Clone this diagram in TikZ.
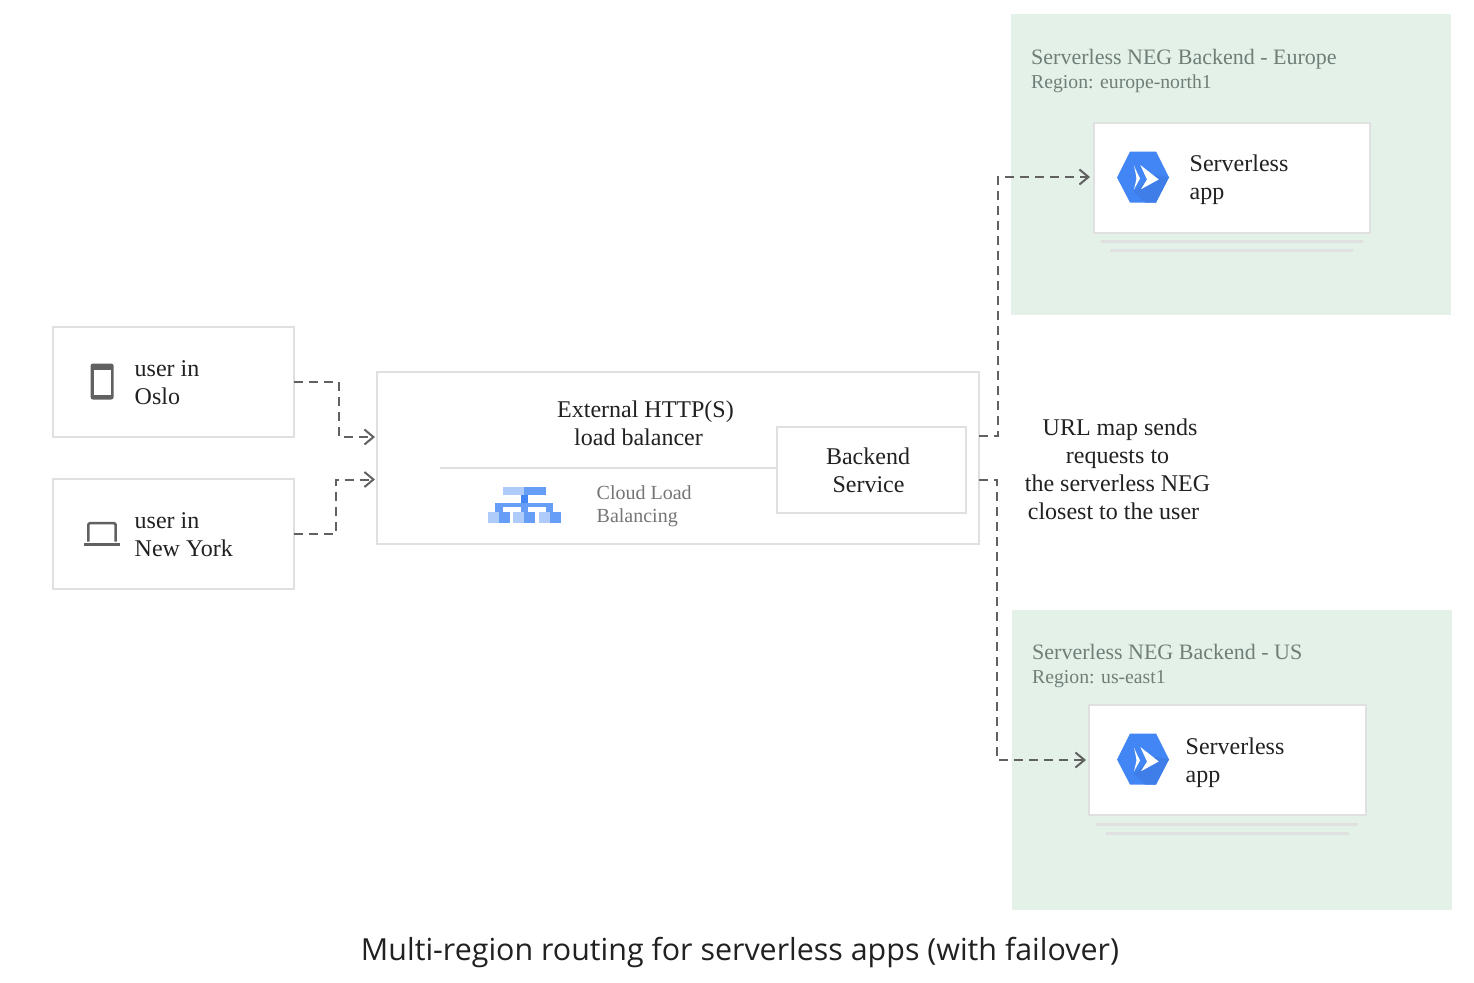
\documentclass[tikz,border=0pt]{standalone}
\usepackage{fontspec}
\setmainfont{Liberation Serif}
\newfontfamily\titlefont{Open Sans}
\usetikzlibrary{arrows.meta}
\definecolor{panel}{HTML}{E3F1E9}
\definecolor{edge}{HTML}{E0E0E0}
\definecolor{ink}{HTML}{212121}
\definecolor{muted}{HTML}{757575}
\definecolor{panelink}{HTML}{6F7F77}
\definecolor{flowc}{HTML}{616161}
\definecolor{gb}{HTML}{4285F4}
\definecolor{gbd}{HTML}{3F7DE8}
\definecolor{gbm}{HTML}{669DF6}
\definecolor{gbl}{HTML}{AECBFA}
\tikzset{
  x=1pt,y=-1pt,
  boxn/.style={draw=edge,line width=2pt,fill=white,inner sep=0pt,outer sep=0pt},
  panelbox/.style={fill=panel,inner sep=0pt,outer sep=0pt},
  lab/.style={font=\fontsize{24}{28}\selectfont,text=ink,inner sep=0pt,align=left,anchor=base west},
  labc/.style={font=\fontsize{24}{28}\selectfont,text=ink,inner sep=0pt,align=center,anchor=base},
  small/.style={font=\fontsize{20}{23}\selectfont,text=muted,inner sep=0pt,align=left,anchor=base west},
  panelhead/.style={font=\fontsize{22}{26}\selectfont,text=panelink,inner sep=0pt,anchor=base west},
  panelsub/.style={font=\fontsize{19.7}{24}\selectfont,text=panelink,inner sep=0pt,anchor=base west},
  flow/.style={draw=flowc,line width=2pt,dash pattern=on 9pt off 6pt},
  flowtip/.style={flow,-{Straight Barb[length=9pt,width=15pt,line width=2pt]}},
  shade/.style={draw=edge,line width=3pt}
}
\newcommand{\appicon}[2]{%
  \begin{scope}[shift={(#1,#2)}]
    \fill[gb] (-26,0) -- (-13,-26) -- (13,-26) -- (26,0) -- (13,25) -- (-13,25) -- cycle;
    \fill[gbd] (12,-2.5) -- (26,-0.5) -- (13,25) -- (2,25) -- (-9.5,14) -- cycle;
    \fill[white] (-2.7,-12.5) -- (15.7,2) -- (-2,11.7) -- (4,2) -- cycle;
    \fill[white] (-9,-12) .. controls (-7,-7) and (-5,-3) .. (-3,1) .. controls (-5,5) and (-7,8) .. (-9,12)
      .. controls (-8,7) and (-7,4) .. (-6.5,1) .. controls (-7,-3) and (-8,-7) .. (-9,-12) -- cycle;
  \end{scope}}
\begin{document}
\begin{tikzpicture}
\useasboundingbox (0,0) rectangle (1474,982);
% panels
\node[panelbox,minimum width=440,minimum height=301] (eu) at (1231,164.5) {};
\node[panelbox,minimum width=440,minimum height=300.5] (us) at (1232,759.75) {};
\node[panelhead] (euh) at (1031,64) {Serverless NEG Backend - Europe};
\node[panelsub] (eus) at (1031,88.5) {Region: europe-north1};
\node[panelhead] (ush) at (1032,659) {Serverless NEG Backend - US};
\node[panelsub] (uss) at (1032,683.5) {Region: us-east1};
% app boxes
\node[boxn,minimum width=276,minimum height=110] (euapp) at (1232,178) {};
\node[boxn,minimum width=277,minimum height=110] (usapp) at (1227.5,760) {};
\draw[shade] (1101,241) -- (1363,241);
\draw[shade] (1110,250) -- (1353,250);
\draw[shade] (1096,824) -- (1358,824);
\draw[shade] (1106,833) -- (1349,833);
\appicon{1143}{177.5}
\appicon{1143}{759.5}
\node[lab] (eut) at (1189.5,199) {Serverless\\app};
\node[lab] (ust) at (1185.5,782) {Serverless\\app};
% user boxes
\node[boxn,minimum width=241,minimum height=110] (oslo) at (173.5,382) {};
\node[boxn,minimum width=241,minimum height=110] (ny) at (173.5,534) {};
\node[lab] (oslot) at (134.5,404) {user in\\Oslo};
\node[lab] (nyt) at (134.5,556) {user in\\New York};
% phone
\fill[flowc,rounded corners=2.5pt] (90.5,363.5) rectangle (113.7,399.5);
\fill[white] (93.5,370) rectangle (110.7,394.5);
% laptop
\draw[flowc,line width=2.5pt,fill=white,rounded corners=1.5pt] (88.3,541.5) -- (88.3,523) -- (115.5,523) -- (115.5,541.5);
\fill[flowc] (84,542.7) rectangle (120,546);
% load balancer
\node[boxn,minimum width=602,minimum height=172] (lb) at (678,458) {};
\node[labc] (lbt) at (638.5,445) {\hspace*{14pt}External HTTP(S)\\load balancer\hspace*{0pt}};
\node[boxn,minimum width=189,minimum height=86] (bs) at (871.5,470) {};
\node[labc] (bst) at (868,492.5) {Backend\\\hspace*{1pt}Service};
\coordinate (divl) at (440,467.5);
\draw[draw=edge,line width=2pt] (divl) -- (bs.west |- divl);
% cloud load balancing icon
\fill[gbl] (502.7,486.7) rectangle (524.3,495.3);
\fill[gbm] (524.3,486.7) rectangle (546,495.3);
\fill[gb] (520.7,495.3) rectangle (528,502.7);
\fill[gbm] (495.3,502.7) rectangle (553.3,506.7);
\fill[gbm] (495.3,506.7) rectangle (502.7,511.7);
\fill[gbm] (520.7,506.7) rectangle (528,511.7);
\fill[gbm] (546,506.7) rectangle (553.3,511.7);
\fill[gbl] (488,511.7) rectangle (499,522.7);
\fill[gbm] (499,511.7) rectangle (509.7,522.7);
\fill[gbl] (513.3,511.7) rectangle (524.3,522.7);
\fill[gbm] (524.3,511.7) rectangle (535,522.7);
\fill[gbl] (538.7,511.7) rectangle (550,522.7);
\fill[gbm] (550,511.7) rectangle (560.7,522.7);
\node[small] (clb) at (596.5,522.5) {Cloud Load\\Balancing};
% url map text
\node[labc] (url) at (1117.5,519) {\hspace*{5pt}URL map sends\\requests to\\the serverless NEG\\closest to the user\hspace*{8pt}};
% connector coordinates
\coordinate (lbA) at (375,437);
\coordinate (lbB) at (375,479.5);
\coordinate (oBend) at (339,437);
\coordinate (nBend) at (336,479.5);
\coordinate (lbOutA) at (979,436);
\coordinate (lbOutB) at (979,480);
\coordinate (eaIn) at (1090,177);
\coordinate (uaIn) at (1086,760);
\coordinate (eBend) at (998,177);
\coordinate (uBend) at (997,760);
\draw[flowtip] (oslo.east) -| (oBend) -- (lbA);
\draw[flowtip] (ny.east) -| (nBend) -- (lbB);
\draw[flowtip] (lbOutA) -| (eBend) -- (eaIn);
\draw[flowtip] (lbOutB) -| (uBend) -- (uaIn);
% caption
\node[font=\titlefont\fontsize{30.4}{36}\selectfont,text=ink,inner sep=0pt,anchor=base] (cap) at (740,960) {Multi-region routing for serverless apps (with failover)};
\end{tikzpicture}
\end{document}
